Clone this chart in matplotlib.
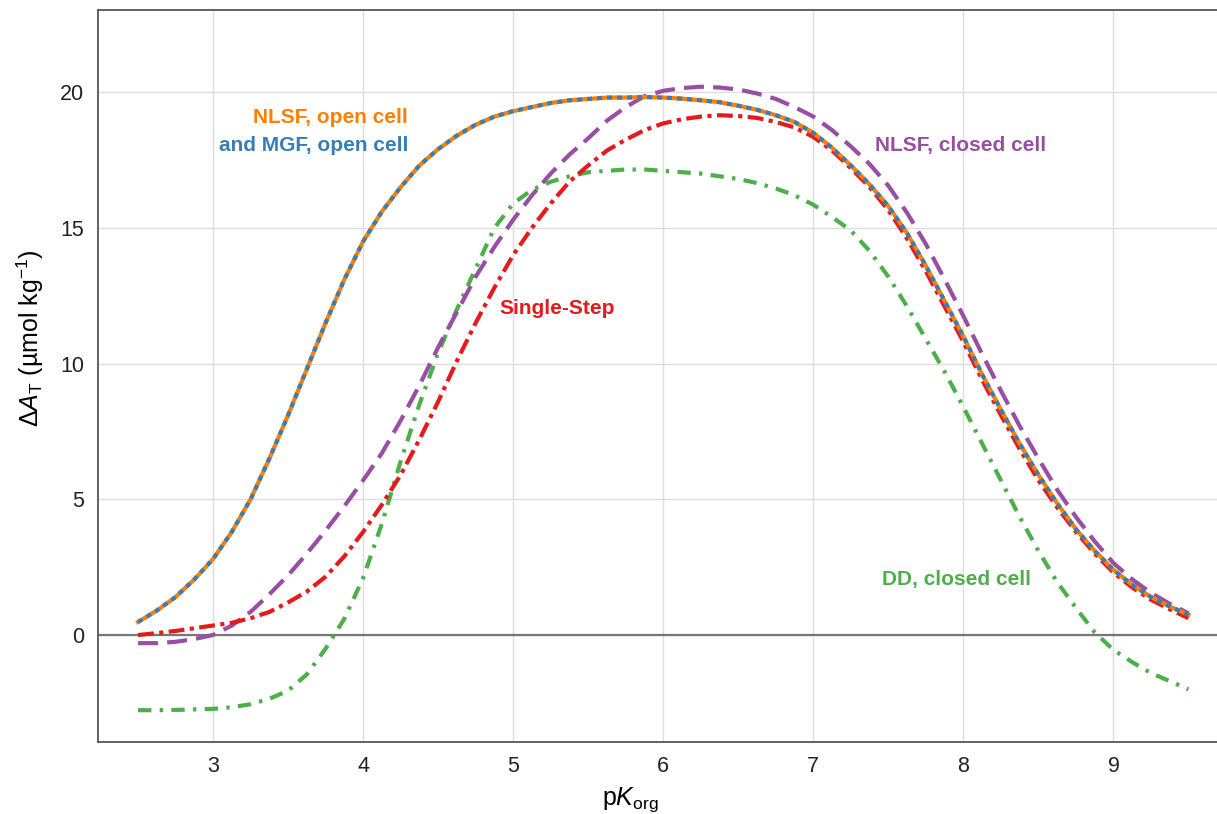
import matplotlib
matplotlib.use("Agg")
import matplotlib.pyplot as plt

plt.rcParams['font.family'] = ['Liberation Sans', 'DejaVu Sans']
plt.rcParams['mathtext.fontset'] = 'custom'
plt.rcParams['mathtext.rm'] = 'Liberation Sans'
plt.rcParams['mathtext.it'] = 'Liberation Sans:italic'
plt.rcParams['mathtext.bf'] = 'Liberation Sans:bold'

pk = [2.5, 2.625, 2.75, 2.875, 3.0, 3.125, 3.25, 3.375, 3.5, 3.625, 3.75, 3.875,
      4.0, 4.125, 4.25, 4.375, 4.5, 4.625, 4.75, 4.875, 5.0, 5.125, 5.25, 5.375,
      5.5, 5.625, 5.75, 5.875, 6.0, 6.125, 6.25, 6.375, 6.5, 6.625, 6.75, 6.875,
      7.0, 7.125, 7.25, 7.375, 7.5, 7.625, 7.75, 7.875, 8.0, 8.125, 8.25, 8.375,
      8.5, 8.625, 8.75, 8.875, 9.0, 9.125, 9.25, 9.375, 9.5]

nlsf_open = [0.48, 0.9, 1.4, 2.05, 2.8, 3.8, 5.0, 6.5, 8.1, 9.8, 11.5, 13.1,
             14.5, 15.6, 16.5, 17.3, 17.9, 18.4, 18.8, 19.1, 19.3, 19.45, 19.6, 19.7,
             19.75, 19.8, 19.8, 19.82, 19.8, 19.76, 19.7, 19.63, 19.5, 19.35, 19.15, 18.9,
             18.5, 17.95, 17.3, 16.6, 15.8, 14.8, 13.6, 12.3, 11.0, 9.6, 8.3, 7.05,
             5.9, 4.85, 3.9, 3.1, 2.4, 1.85, 1.4, 1.05, 0.75]
mgf_open = list(nlsf_open)
nlsf_closed = [-0.3, -0.3, -0.25, -0.15, 0.0, 0.35, 0.85, 1.5, 2.2, 3.0, 3.85, 4.75,
               5.7, 6.7, 7.9, 9.2, 10.6, 11.9, 13.2, 14.3, 15.3, 16.2, 17.0, 17.7,
               18.3, 18.95, 19.45, 19.85, 20.05, 20.15, 20.2, 20.17, 20.1, 19.95, 19.75, 19.45,
               19.1, 18.6, 18.0, 17.35, 16.55, 15.55, 14.4, 13.1, 11.75, 10.35, 9.0, 7.7,
               6.5, 5.35, 4.35, 3.45, 2.65, 2.05, 1.55, 1.15, 0.8]
single_step = [0.0, 0.07, 0.15, 0.25, 0.35, 0.45, 0.62, 0.85, 1.2, 1.6, 2.15, 2.9,
               3.8, 4.8, 5.9, 7.2, 8.6, 10.1, 11.5, 12.8, 14.0, 15.0, 15.9, 16.7,
               17.3, 17.85, 18.25, 18.6, 18.85, 19.0, 19.1, 19.15, 19.12, 19.05, 18.9, 18.7,
               18.35, 17.85, 17.2, 16.5, 15.65, 14.6, 13.4, 12.1, 10.8, 9.4, 8.1, 6.85,
               5.7, 4.7, 3.8, 3.0, 2.3, 1.75, 1.3, 0.95, 0.62]
dd_closed = [-2.77, -2.77, -2.76, -2.74, -2.72, -2.66, -2.55, -2.35, -2.05, -1.45, -0.5, 0.6,
             2.1, 4.1, 6.4, 8.5, 10.4, 12.0, 13.5, 15.0, 15.9, 16.4, 16.7, 16.9,
             17.05, 17.1, 17.15, 17.15, 17.1, 17.05, 17.0, 16.9, 16.8, 16.65, 16.45, 16.2,
             15.85, 15.4, 14.9, 14.15, 13.2, 12.1, 10.9, 9.7, 8.4, 7.05, 5.7, 4.35,
             3.1, 1.95, 1.0, 0.1, -0.55, -1.0, -1.4, -1.7, -2.0]

c_orange = '#ff7f00'
c_blue = '#377eb8'
c_purple = '#984ea3'
c_red = '#e41a1c'
c_green = '#4daf4a'

fig = plt.figure(figsize=(12.17, 8.14), dpi=100)
ax = fig.add_axes([0.0805, 0.0885, 0.9195, 0.899])

ax.axhline(0, color='#777777', lw=1.6, zorder=1)

lw = 3.0
ax.plot(pk, dd_closed, color=c_green, lw=lw, ls=(0, (3.2, 2.0, 0.8, 2.0)), zorder=3)
ax.plot(pk, nlsf_closed, color=c_purple, lw=lw, ls=(0, (4.8, 2.2)), zorder=4)
ax.plot(pk, single_step, color=c_red, lw=lw, ls=(0, (3.8, 1.3, 1.0, 1.3)), zorder=5)
ax.plot(pk, nlsf_open, color=c_orange, lw=lw, ls='-', zorder=6)
ax.plot(pk, mgf_open, color=c_blue, lw=lw, ls=(0, (1.2, 1.2)), zorder=7)

ax.set_xlim(2.233, 9.69)
ax.set_ylim(-3.94, 23.02)
ax.set_xticks([3, 4, 5, 6, 7, 8, 9])
ax.set_yticks([0, 5, 10, 15, 20])
ax.grid(True, color='#dddddd', lw=1.0, zorder=0)
ax.set_axisbelow(True)
ax.tick_params(axis='both', length=0, labelsize=15.5, colors='#222222', pad=10)

for s in ['left', 'bottom', 'top']:
    ax.spines[s].set_color('#555555')
    ax.spines[s].set_linewidth(1.3)
ax.spines['right'].set_visible(False)

ax.set_xlabel(r'p$K_{\mathrm{org}}$', fontsize=18)
ax.set_ylabel(r'$\Delta A_{\mathrm{T}}$ (µmol kg$^{-1}$)', fontsize=18)
ax.xaxis.set_label_coords(0.476, -0.059)
ax.yaxis.set_label_coords(-0.046, 0.552)

fs = 15
ax.text(4.3, 19.08, 'NLSF, open cell', color=c_orange, fontsize=fs, fontweight='bold', ha='right', va='center')
ax.text(4.3, 18.05, 'and MGF, open cell', color=c_blue, fontsize=fs, fontweight='bold', ha='right', va='center')
ax.text(7.41, 18.05, 'NLSF, closed cell', color=c_purple, fontsize=fs, fontweight='bold', ha='left', va='center')
ax.text(5.29, 12.04, 'Single-Step', color=c_red, fontsize=fs, fontweight='bold', ha='center', va='center')
ax.text(7.46, 2.05, 'DD, closed cell', color=c_green, fontsize=fs, fontweight='bold', ha='left', va='center')

fig.savefig('out.png', dpi=100)
